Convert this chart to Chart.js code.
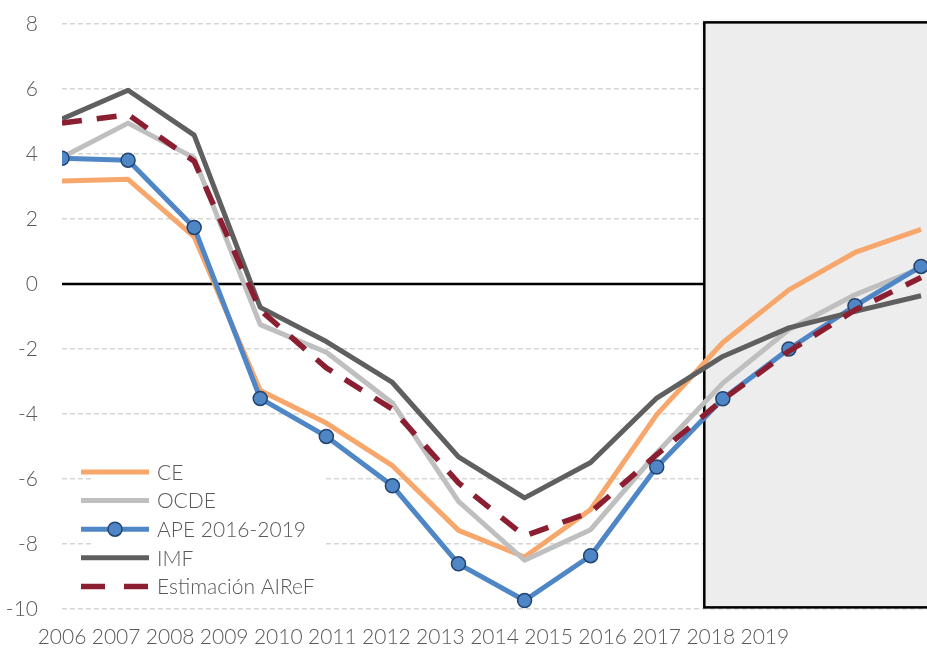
<!DOCTYPE html>
<html>
<head>
<meta charset="utf-8">
<script src="https://cdn.jsdelivr.net/npm/chart.js@4.4.0/dist/chart.umd.min.js"></script>
<style>
  html, body { margin: 0; padding: 0; background: #fff; }
  #wrap { width: 927px; height: 648px; position: relative; }
</style>
</head>
<body>
<div id="wrap"><canvas id="gapChart"></canvas></div>
<script>
// Output gap, % of potential GDP
const years = ['2006', '2007', '2008', '2009', '2010', '2011', '2012', '2013', '2014', '2015', '2016', '2017', '2018', '2019'];
const ce    = [3.17, 3.22, 1.45, -3.28, -4.28, -5.59, -7.58, -8.40, -6.94, -4.02, -1.80, -0.18, 0.97, 1.68];
const ocde  = [3.90, 4.95, 3.88, -1.25, -2.10, -3.66, -6.69, -8.50, -7.56, -5.20, -3.05, -1.40, -0.33, 0.49];
const ape   = [3.87, 3.81, 1.74, -3.52, -4.69, -6.21, -8.61, -9.74, -8.36, -5.63, -3.53, -2.00, -0.67, 0.54];
const imf   = [5.08, 5.96, 4.58, -0.72, -1.77, -3.03, -5.32, -6.58, -5.49, -3.51, -2.23, -1.35, -0.84, -0.36];
const airef = [4.95, 5.21, 3.78, -0.80, -2.58, -3.85, -6.12, -7.75, -7.02, -5.25, -3.56, -2.07, -0.80, 0.20];

const textColor = '#595959';
const fontFamily = "Lato, 'Open Sans', sans-serif";
Chart.defaults.font.family = fontFamily;
Chart.defaults.font.weight = 300;

const toPoints = arr => arr.map((v, i) => ({ x: i, y: v }));

// zero line + shaded forecast box, under the lines
const backdrop = {
    id: 'backdrop',
    beforeDatasetsDraw(chart) {
        const { ctx, chartArea, scales: { x, y } } = chart;
        ctx.save();
        const y0 = y.getPixelForValue(0);
        ctx.strokeStyle = '#000';
        ctx.lineWidth = 2.5;
        ctx.beginPath();
        ctx.moveTo(chartArea.left, y0);
        ctx.lineTo(chartArea.right, y0);
        ctx.stroke();

        const bx = x.getPixelForValue(9.72);
        const by1 = y.getPixelForValue(8.05);
        const by2 = y.getPixelForValue(-9.95);
        ctx.shadowColor = 'rgba(0,0,0,0.18)';
        ctx.shadowBlur = 5;
        ctx.fillStyle = '#ededed';
        ctx.fillRect(bx, by1, chartArea.right + 10 - bx, by2 - by1);
        ctx.shadowColor = 'transparent';
        ctx.strokeStyle = '#000';
        ctx.lineWidth = 2.5;
        ctx.strokeRect(bx, by1, chartArea.right + 10 - bx, by2 - by1);
        ctx.restore();
    }
};

// legend in the lower left corner of the plot
const cornerLegend = {
    id: 'cornerLegend',
    afterDatasetsDraw(chart) {
        const ctx = chart.ctx;
        const x0 = 81, x1 = 149, textX = 157, top = 472, step = 28.6;
        ctx.save();
        ctx.fillStyle = '#fff';
        ctx.fillRect(93, 458, 230, 142);
        chart.data.datasets.forEach((ds, i) => {
            const yy = top + i * step;
            ctx.strokeStyle = ds.borderColor;
            ctx.lineWidth = ds.borderWidth;
            ctx.setLineDash(ds.borderDash ? [24, 19] : []);
            ctx.beginPath();
            ctx.moveTo(x0, yy);
            ctx.lineTo(x1, yy);
            ctx.stroke();
            ctx.setLineDash([]);
            if (ds.pointRadius > 0) {
                ctx.fillStyle = ds.pointBackgroundColor;
                ctx.strokeStyle = ds.pointBorderColor;
                ctx.lineWidth = ds.pointBorderWidth;
                ctx.beginPath();
                ctx.arc((x0 + x1) / 2, yy, ds.pointRadius, 0, Math.PI * 2);
                ctx.fill();
                ctx.stroke();
            }
            ctx.fillStyle = textColor;
            ctx.font = '300 21px ' + fontFamily;
            ctx.textBaseline = 'middle';
            ctx.textAlign = 'left';
            ctx.fillText(ds.label, textX, yy + 1);
        });
        ctx.restore();
    }
};

const ctx = document.getElementById('gapChart').getContext('2d');
new Chart(ctx, {
    type: 'line',
    data: {
        datasets: [
            { label: 'CE', data: toPoints(ce), borderColor: '#f7a76c', borderWidth: 5, pointRadius: 0, order: 4 },
            { label: 'OCDE', data: toPoints(ocde), borderColor: '#bfbfbf', borderWidth: 5, pointRadius: 0, order: 3 },
            {
                label: 'APE 2016-2019', data: toPoints(ape), borderColor: '#4f86c6', borderWidth: 5,
                pointRadius: 7, pointBackgroundColor: '#4f86c6', pointBorderColor: '#22446e', pointBorderWidth: 1.5, order: 2
            },
            { label: 'IMF', data: toPoints(imf), borderColor: '#5f5f5f', borderWidth: 5, pointRadius: 0, order: 1 },
            { label: 'Estimación AIReF', data: toPoints(airef), borderColor: '#8b1e30', borderWidth: 5.5, borderDash: [20, 15], pointRadius: 0, order: 0 }
        ]
    },
    options: {
        responsive: true,
        maintainAspectRatio: false,
        animation: false,
        layout: { autoPadding: false, padding: { top: 24, right: 0, bottom: 0, left: 0 } },
        elements: { line: { tension: 0, borderJoinStyle: 'round' } },
        plugins: { legend: { display: false }, tooltip: { enabled: false } },
        scales: {
            x: { type: 'linear', min: 0, max: 13.09, display: false },
            x2: {
                type: 'linear', position: 'bottom', min: 0, max: 16,
                grid: { display: true, drawOnChartArea: false, drawTicks: true, tickLength: 16, tickColor: 'transparent' },
                border: { display: false },
                ticks: {
                    stepSize: 1, autoSkip: false, maxRotation: 0, padding: 0,
                    color: textColor, font: { size: 21 },
                    callback: v => years[v] ?? ''
                },
                afterFit: s => { s.height = 39; s.paddingLeft = 0; s.paddingRight = 0; }
            },
            y: {
                min: -10, max: 8,
                grid: { color: '#d6d6d6', lineWidth: 1.5, drawTicks: true, tickLength: 24, tickColor: 'transparent' },
                border: { display: false, dash: [5, 3] },
                ticks: { stepSize: 2, padding: 0, color: textColor, font: { size: 21 } },
                afterFit: s => { s.width = 62; }
            }
        }
    },
    plugins: [backdrop, cornerLegend]
});
</script>
</body>
</html>
